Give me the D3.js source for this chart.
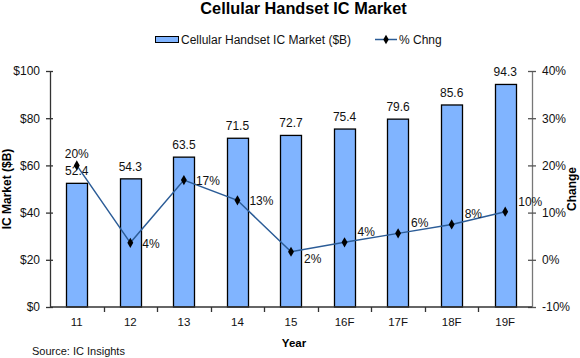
<!DOCTYPE html>
<html><head><meta charset="utf-8">
<script src="https://cdn.jsdelivr.net/npm/d3@7/dist/d3.min.js"></script>
<style>body{margin:0;background:#fff;} text{font-family:"Liberation Sans",Arial,sans-serif;}</style>
</head><body>
<svg id="c" width="580" height="358"></svg>
<script>
const categories = ["11","12","13","14","15","16F","17F","18F","19F"];
const marketValues = [52.4,54.3,63.5,71.5,72.7,75.4,79.6,85.6,94.3];
const pctChange = [20.0,3.6,16.9,12.6,1.7,3.7,5.6,7.5,10.2];
const pctLabels = ["20%","4%","17%","13%","2%","4%","6%","8%","10%"];
const leftTicks = [0,20,40,60,80,100];
const rightTicks = [-10,0,10,20,30,40];
const labelPlacement = ["top","right","right","right","bottomright","topright","topright","topright","topright"];

const svg = d3.select("#c");
const x0 = 50, x1 = 532, yTop = 71, yBot = 307;
const x = d3.scaleBand().domain(categories).range([x0, x1]).paddingInner(0.6).paddingOuter(0.3);
const xb = d3.scaleBand().domain(categories).range([x0, x1]);
const yL = d3.scaleLinear().domain([0,100]).range([yBot, yTop]);
const yR = d3.scaleLinear().domain([-10,40]).range([yBot, yTop]);

const barFill = "#80b4ff", lineCol = "#2b5c97";

// title
svg.append("text").attr("x",303.5).attr("y",14).attr("text-anchor","middle")
  .attr("font-size",16.3).attr("font-weight","bold").text("Cellular Handset IC Market");

// legend
svg.append("rect").attr("x",155.5).attr("y",36.5).attr("width",23).attr("height",6)
  .attr("fill",barFill).attr("stroke","#000").attr("stroke-width",1);
svg.append("text").attr("x",181).attr("y",44).attr("font-size",12).attr("fill","#111").text("Cellular Handset IC Market ($B)");
svg.append("line").attr("x1",375).attr("x2",397).attr("y1",39.5).attr("y2",39.5).attr("stroke",lineCol).attr("stroke-width",1.5);
svg.append("path").attr("d",d3.symbol(d3.symbolDiamond,26)()).attr("transform","translate(386,39.5)").attr("fill","#000");
svg.append("text").attr("x",399).attr("y",44).attr("font-size",12).attr("fill","#111").text("% Chng");

// bars
svg.selectAll("rect.bar").data(marketValues).join("rect").attr("class","bar")
  .attr("x",(d,i)=>Math.round(x(categories[i]))+0.5)
  .attr("width",Math.round(x.bandwidth()))
  .attr("y",d=>yL(d)).attr("height",d=>yBot-yL(d))
  .attr("fill",barFill).attr("stroke","#000").attr("stroke-width",1.3);

svg.selectAll("text.bv").data(marketValues).join("text").attr("class","bv")
  .attr("x",(d,i)=>x(categories[i])+x.bandwidth()/2).attr("y",d=>yL(d)-8)
  .attr("text-anchor","middle").attr("font-size",12).attr("fill","#111").text(d=>d.toFixed(1));

// axes
const axL = d3.axisLeft(yL).tickValues(leftTicks).tickFormat(d=>"$"+d).tickSize(0);
const gL = svg.append("g").attr("transform",`translate(${x0},0)`).call(axL);
gL.select(".domain").attr("stroke","#333").attr("stroke-width",1.3);
gL.selectAll(".tick text").attr("font-size",12).attr("fill","#111").attr("x",-10).style("font-family","Liberation Sans, Arial, sans-serif");
gL.selectAll(".tick").append("line").attr("x1",-4).attr("x2",3).attr("stroke","#333").attr("stroke-width",1.3);

const axR = d3.axisRight(yR).tickValues(rightTicks).tickFormat(d=>d+"%").tickSize(0);
const gR = svg.append("g").attr("transform",`translate(${x1},0)`).call(axR);
gR.select(".domain").attr("stroke","#777").attr("stroke-width",1.3);
gR.selectAll(".tick text").attr("font-size",12).attr("fill","#111").attr("x",10).style("font-family","Liberation Sans, Arial, sans-serif");
gR.selectAll(".tick").append("line").attr("x1",-4).attr("x2",4).attr("stroke","#555").attr("stroke-width",1.3);

// x axis
svg.append("line").attr("x1",x0).attr("x2",x1).attr("y1",yBot).attr("y2",yBot).attr("stroke","#333").attr("stroke-width",1.3);
categories.slice(1).forEach(c=>{
  const xx = Math.round(xb(c))+0.5;
  svg.append("line").attr("x1",xx).attr("x2",xx).attr("y1",yBot).attr("y2",yBot+5).attr("stroke","#333").attr("stroke-width",1.3);
});
svg.selectAll("text.xl").data(categories).join("text").attr("class","xl")
  .attr("x",d=>xb(d)+xb.bandwidth()/2).attr("y",326).attr("text-anchor","middle")
  .attr("font-size",11.5).attr("fill","#111").text(d=>d);

// axis titles
svg.append("text").attr("x",294).attr("y",347).attr("text-anchor","middle").attr("font-size",11.5).attr("font-weight","bold").text("Year");
svg.append("text").attr("transform","translate(11,189) rotate(-90)").attr("text-anchor","middle").attr("font-size",12).attr("font-weight","bold").text("IC Market ($B)");
svg.append("text").attr("transform","translate(576,189) rotate(-90)").attr("text-anchor","middle").attr("font-size",12).attr("font-weight","bold").text("Change");
svg.append("text").attr("x",32).attr("y",355).attr("font-size",11).attr("fill","#111").text("Source: IC Insights");

// line
const cx = i => xb(categories[i]) + xb.bandwidth()/2;
const line = d3.line().x((d,i)=>cx(i)).y(d=>yR(d));
svg.append("path").datum(pctChange).attr("d",line).attr("fill","none").attr("stroke",lineCol).attr("stroke-width",1.5);
svg.selectAll("path.mk").data(pctChange).join("path").attr("class","mk")
  .attr("d",d3.symbol(d3.symbolDiamond,30)())
  .attr("transform",(d,i)=>`translate(${cx(i)},${yR(d)})`).attr("fill","#000");

const off = {top:[0,-7,"middle"], right:[12,5,"start"], bottomright:[13,11,"start"], topright:[13,-6,"start"]};
svg.selectAll("text.pl").data(pctChange).join("text").attr("class","pl")
  .attr("x",(d,i)=>cx(i)+off[labelPlacement[i]][0])
  .attr("y",(d,i)=>yR(d)+off[labelPlacement[i]][1])
  .attr("text-anchor",(d,i)=>off[labelPlacement[i]][2])
  .attr("font-size",12).attr("fill","#111").text((d,i)=>pctLabels[i]);
</script>
</body></html>
